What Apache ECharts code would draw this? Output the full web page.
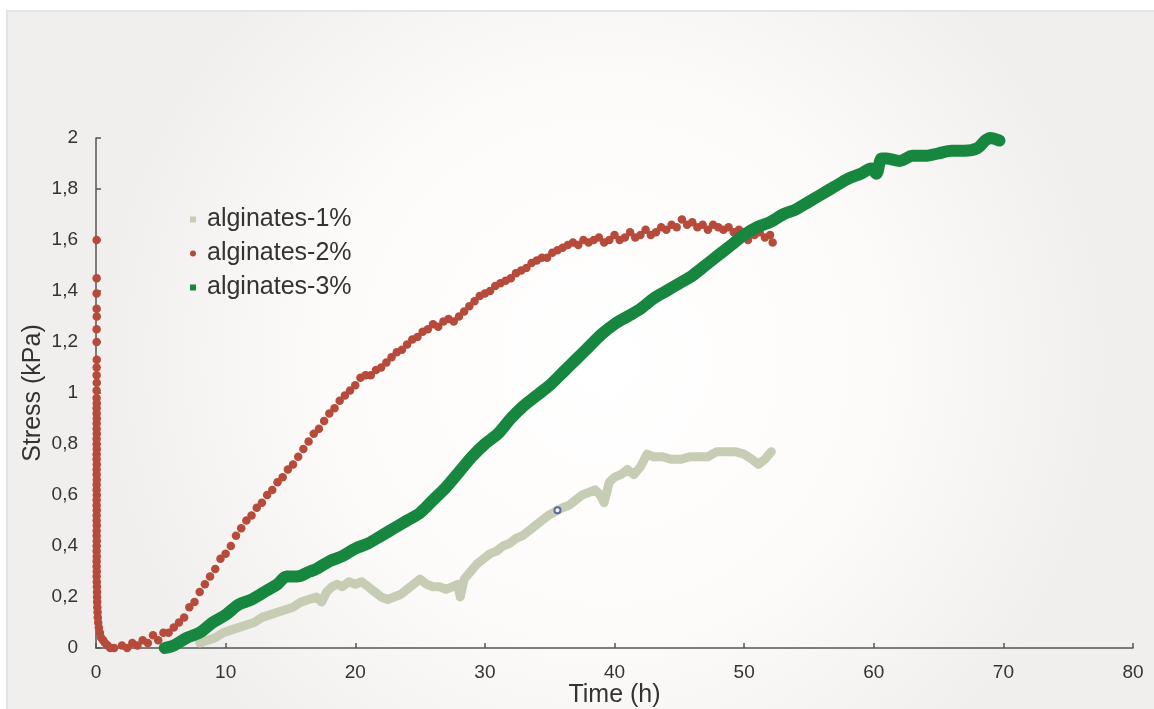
<!DOCTYPE html>
<html>
<head>
<meta charset="utf-8">
<script src="https://cdn.jsdelivr.net/npm/echarts@6/dist/echarts.min.js"></script>
<style>
html,body{margin:0;padding:0;background:#ffffff;}
#chart{width:1154px;height:709px;}
</style>
</head>
<body>
<div id="chart"></div>
<script>
// ---- data (time h, stress kPa) ----
var seriesNames = ['alginates-1%', 'alginates-2%', 'alginates-3%'];
var xTicks = [0, 10, 20, 30, 40, 50, 60, 70, 80];
var yTicks = [0, 0.2, 0.4, 0.6, 0.8, 1, 1.2, 1.4, 1.6, 1.8, 2];

var alg1 = [
 [8.0,0.02],[8.6,0.03],[9.2,0.04],[9.8,0.06],[10.4,0.07],[11.0,0.08],[11.6,0.09],[12.2,0.10],[12.8,0.12],
 [13.4,0.13],[14.0,0.14],[14.6,0.15],[15.2,0.16],[15.8,0.18],[16.4,0.19],[17.0,0.20],[17.4,0.18],[17.8,0.22],
 [18.2,0.24],[18.6,0.25],[19.0,0.24],[19.5,0.26],[20.0,0.25],[20.5,0.26],[21.0,0.24],[21.5,0.22],[22.0,0.20],
 [22.5,0.19],[23.0,0.20],[23.5,0.21],[24.0,0.23],[24.5,0.25],[25.0,0.27],[25.5,0.25],[26.0,0.24],[26.5,0.24],
 [27.0,0.23],[27.5,0.24],[27.9,0.25],[28.1,0.20],[28.4,0.27],[28.9,0.30],[29.4,0.33],[29.9,0.35],[30.4,0.37],
 [30.9,0.38],[31.4,0.40],[31.9,0.41],[32.4,0.43],[32.9,0.44],[33.4,0.46],[33.9,0.48],[34.4,0.50],[34.9,0.52],
 [35.6,0.54],[36.0,0.55],[36.5,0.56],[37.0,0.58],[37.5,0.60],[38.0,0.61],[38.5,0.62],[38.9,0.60],[39.2,0.57],
 [39.6,0.65],[40.0,0.67],[40.5,0.68],[41.0,0.70],[41.5,0.68],[42.0,0.71],[42.5,0.76],[43.0,0.75],[43.7,0.75],
 [44.4,0.74],[45.1,0.74],[45.8,0.75],[46.5,0.75],[47.2,0.75],[47.9,0.77],[48.6,0.77],[49.3,0.77],[50.0,0.76],
 [50.6,0.74],[51.1,0.72],[51.6,0.74],[52.1,0.77]
];

var alg2 = [
 [0.05,1.60],[0.05,1.45],[0.05,1.39],[0.05,1.33],[0.06,1.30],[0.05,1.25],[0.05,1.20],[0.06,1.13],[0.05,1.10],
 [0.05,1.07],[0.06,1.04],[0.05,1.01],[0.05,0.98],[0.06,0.96],[0.05,0.94],[0.05,0.92],[0.06,0.90],[0.05,0.88],
 [0.05,0.86],[0.06,0.84],[0.05,0.82],[0.05,0.80],[0.06,0.78],[0.05,0.76],[0.05,0.74],[0.06,0.72],[0.05,0.70],
 [0.05,0.68],[0.06,0.66],[0.05,0.64],[0.05,0.62],[0.06,0.60],[0.05,0.58],[0.05,0.56],[0.06,0.54],[0.05,0.52],
 [0.05,0.50],[0.06,0.48],[0.05,0.46],[0.05,0.44],[0.06,0.42],[0.05,0.40],[0.05,0.38],[0.06,0.36],[0.05,0.34],
 [0.05,0.32],[0.06,0.30],[0.05,0.28],[0.06,0.26],[0.07,0.24],[0.08,0.22],[0.08,0.20],[0.09,0.18],[0.10,0.16],
 [0.12,0.14],[0.14,0.12],[0.17,0.10],[0.22,0.08],[0.30,0.06],[0.40,0.04],[0.55,0.03],[0.70,0.02],[0.90,0.01],
 [1.10,0.00],[1.40,0.00],
 [2.0,0.01],[2.4,0.00],[2.8,0.02],[3.2,0.01],[3.6,0.03],[4.0,0.02],[4.4,0.05],[4.8,0.03],[5.2,0.06],[5.6,0.06],
 [6.0,0.08],[6.4,0.10],[6.8,0.12],[7.2,0.16],[7.6,0.18],[8.0,0.22],[8.4,0.25],[8.8,0.28],[9.2,0.31],[9.6,0.35],
 [10.0,0.37],[10.4,0.40],[10.8,0.44],[11.2,0.47],[11.6,0.50],[12.0,0.52],[12.4,0.55],[12.8,0.57],[13.2,0.60],
 [13.6,0.62],[14.0,0.65],[14.4,0.67],[14.8,0.70],[15.2,0.72],[15.6,0.75],[16.0,0.78],[16.4,0.81],[16.8,0.84],
 [17.2,0.86],[17.6,0.89],[18.0,0.92],[18.4,0.94],[18.8,0.97],[19.2,0.99],[19.6,1.01],[20.0,1.03],[20.4,1.06],
 [20.8,1.07],[21.2,1.07],[21.6,1.09],[22.0,1.10],[22.4,1.12],[22.8,1.14],[23.2,1.16],[23.6,1.17],[24.0,1.19],
 [24.4,1.21],[24.8,1.22],[25.2,1.24],[25.6,1.25],[26.0,1.27],[26.4,1.26],[26.8,1.28],[27.2,1.29],[27.6,1.28],
 [28.0,1.30],[28.4,1.32],[28.8,1.34],[29.2,1.36],[29.6,1.38],[30.0,1.39],[30.4,1.40],[30.8,1.42],[31.2,1.43],
 [31.6,1.44],[32.0,1.45],[32.4,1.47],[32.8,1.48],[33.2,1.49],[33.6,1.51],[34.0,1.52],[34.4,1.53],[34.8,1.53],
 [35.2,1.55],[35.6,1.56],[36.0,1.57],[36.4,1.58],[36.8,1.59],[37.2,1.58],[37.6,1.60],[38.0,1.59],[38.4,1.60],
 [38.8,1.61],[39.2,1.59],[39.6,1.60],[40.0,1.62],[40.4,1.60],[40.8,1.61],[41.2,1.63],[41.6,1.61],[42.0,1.62],
 [42.4,1.64],[42.8,1.62],[43.2,1.63],[43.6,1.65],[44.0,1.64],[44.4,1.66],[44.8,1.65],[45.2,1.68],[45.6,1.66],
 [46.0,1.67],[46.4,1.65],[46.8,1.66],[47.2,1.64],[47.6,1.66],[48.0,1.65],[48.4,1.64],[48.8,1.65],[49.2,1.63],
 [49.6,1.64],[50.0,1.63],[50.3,1.60],[50.4,1.64],[50.8,1.62],[51.2,1.63],[51.6,1.61],[52.0,1.62],[52.2,1.59]
];

var alg3 = [
 [5.3,0.00],[6.0,0.01],[7.0,0.04],[8.0,0.06],[9.0,0.10],[10.0,0.13],[11.0,0.17],[12.0,0.19],[13.0,0.22],
 [14.0,0.25],[14.7,0.28],[15.5,0.28],[16.5,0.30],[17.0,0.31],[18.0,0.34],[19.0,0.36],[20.0,0.39],[21.0,0.41],
 [22.0,0.44],[23.0,0.47],[24.0,0.50],[25.0,0.53],[26.0,0.58],[27.0,0.63],[28.0,0.69],[29.0,0.75],[30.0,0.80],
 [31.0,0.84],[32.0,0.90],[33.0,0.95],[34.0,0.99],[35.0,1.03],[36.0,1.08],[37.0,1.13],[38.0,1.18],[39.0,1.23],
 [40.0,1.27],[41.0,1.30],[42.0,1.33],[43.0,1.37],[44.0,1.40],[45.0,1.43],[46.0,1.46],[47.0,1.50],[48.0,1.54],
 [49.0,1.58],[50.0,1.62],[51.0,1.65],[52.0,1.67],[53.0,1.70],[54.0,1.72],[55.0,1.75],[56.0,1.78],[57.0,1.81],
 [58.0,1.84],[59.0,1.86],[59.8,1.88],[60.2,1.86],[60.6,1.92],[61.0,1.92],[62.0,1.91],[63.0,1.93],[64.0,1.93],
 [65.0,1.94],[66.0,1.95],[67.0,1.95],[68.0,1.96],[68.6,1.99],[69.0,2.00],[69.7,1.99]
];

var markedPoint = [[35.6, 0.54]];

var colors = { a1: '#c6cdb4', a2: '#b64a3b', a3: '#17873f' };

function fmt(v) { return String(+v.toFixed(1)).replace('.', ','); }

var chart = echarts.init(document.getElementById('chart'), null, { renderer: 'canvas' });
var font = 'Liberation Sans, Arial, Helvetica, sans-serif';

chart.setOption({
  animation: false,
  backgroundColor: '#ffffff',
  textStyle: { fontFamily: font },
  graphic: [{
    type: 'rect', z: -100, silent: true,
    shape: { x: 7, y: 11, width: 1150, height: 700 },
    style: {
      fill: { type: 'radial', x: 0.52, y: 0.5, r: 0.72,
        colorStops: [{ offset: 0, color: '#ffffff' }, { offset: 0.55, color: '#fdfbf9' }, { offset: 1, color: '#f0efed' }] },
      stroke: '#e4e4e4', lineWidth: 2
    }
  }],
  grid: { left: 96, right: 21, top: 138, bottom: 61, containLabel: false, outerBoundsMode: 'none' },
  legend: {
    orient: 'vertical', left: 185, top: 202, itemGap: 9,
    itemWidth: 6, itemHeight: 6,
    textStyle: { fontSize: 25, color: '#333333', fontFamily: font, padding: [0, 0, 0, 6] },
    data: [
      { name: seriesNames[0], icon: 'rect' },
      { name: seriesNames[1], icon: 'circle' },
      { name: seriesNames[2], icon: 'rect' }
    ]
  },
  xAxis: {
    type: 'value', min: xTicks[0], max: xTicks[xTicks.length - 1], interval: 10,
    name: 'Time (h)', nameLocation: 'middle', nameGap: 35, nameMoveOverlap: false,
    nameTextStyle: { fontSize: 25, color: '#333333' },
    axisLine: { show: true, onZero: false, lineStyle: { color: '#555555', width: 1.5 } },
    axisTick: { show: true, inside: true, length: 5, lineStyle: { color: '#555555', width: 1.5 } },
    axisLabel: { fontSize: 19, color: '#333333', margin: 15 },
    splitLine: { show: false }
  },
  yAxis: {
    type: 'value', min: yTicks[0], max: yTicks[yTicks.length - 1], interval: 0.2,
    name: 'Stress (kPa)', nameLocation: 'middle', nameGap: 50, nameMoveOverlap: false,
    nameTextStyle: { fontSize: 25, color: '#333333' },
    axisLine: { show: true, onZero: false, lineStyle: { color: '#555555', width: 1.5 } },
    axisTick: { show: true, inside: true, length: 5, lineStyle: { color: '#555555', width: 1.5 } },
    axisLabel: { fontSize: 19, color: '#333333', margin: 18, formatter: fmt },
    splitLine: { show: false }
  },
  series: [
    {
      name: seriesNames[0], type: 'line', data: alg1, showSymbol: false, smooth: false,
      itemStyle: { color: colors.a1 },
      lineStyle: { color: colors.a1, width: 9, cap: 'round', join: 'round' }, z: 2
    },
    {
      name: seriesNames[1], type: 'scatter', data: alg2, symbol: 'circle', symbolSize: 8.5,
      itemStyle: { color: colors.a2, opacity: 1 }, z: 3
    },
    {
      name: seriesNames[2], type: 'line', data: alg3, showSymbol: false, smooth: 0.3,
      itemStyle: { color: colors.a3 },
      lineStyle: { color: colors.a3, width: 12, cap: 'round', join: 'round' }, z: 4
    },
    {
      name: 'marked', type: 'scatter', data: markedPoint, symbol: 'emptyCircle', symbolSize: 6,
      itemStyle: { color: '#3b4c9e', borderColor: '#3b4c9e', borderWidth: 1.5 }, z: 5
    }
  ]
});
</script>
</body>
</html>
